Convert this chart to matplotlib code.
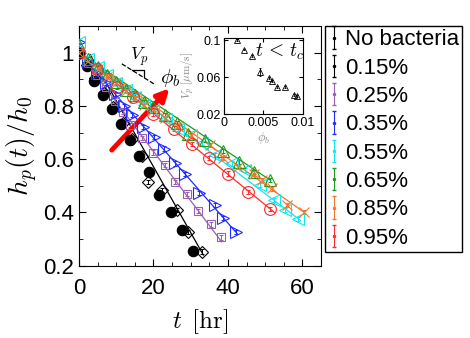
import numpy as np
import matplotlib
matplotlib.use("Agg")
import matplotlib.pyplot as plt
from matplotlib.ticker import MultipleLocator

plt.rcParams['font.family'] = ['Liberation Sans', 'DejaVu Sans']
plt.rcParams['mathtext.fontset'] = 'cm'

# ---- data ----
labels = ['No bacteria', '0.15%', '0.25%', '0.35%', '0.55%', '0.65%', '0.85%', '0.95%']
colors = ['black', 'black', '#9a5fb4', '#1f2cff', '#10e8f0', '#1f9a1f', '#f5762e', '#ff2a2a']
markers = ['o', 'D', 's', '>', '<', '^', 'x', 'o']

t_nobac = [0, 2.1, 4.1, 6.4, 8.8, 11.4, 13.8, 16.2, 18.7, 21.6, 24.6, 27.6, 30.6]
h_nobac = [0.999, 0.951, 0.895, 0.842, 0.790, 0.731, 0.671, 0.612, 0.550, 0.465, 0.401, 0.335, 0.254]

t_015 = [0, 2.2, 4.4, 6.8, 9.2, 11.8, 14.3, 16.8, 18.6, 22.2, 26.3, 29.4, 33.0]
h_015 = [1.0, 0.955, 0.905, 0.85, 0.795, 0.735, 0.675, 0.61, 0.515, 0.484, 0.409, 0.327, 0.253]

t_025 = [0, 2.4, 4.8, 7.2, 9.6, 11.9, 13.7, 16.8, 19.8, 23.1, 25.9, 29.1, 32.1, 35.4, 38.1]
h_025 = [1.0, 0.96, 0.915, 0.87, 0.82, 0.777, 0.727, 0.68, 0.625, 0.578, 0.513, 0.468, 0.406, 0.355, 0.306]

t_035 = [0, 2.4, 4.8, 7.2, 9.6, 12.0, 14.2, 17.2, 20.1, 22.8, 25.9, 28.6, 32.2, 36.5, 38.7, 42.1]
h_035 = [1.04, 0.965, 0.925, 0.885, 0.845, 0.80, 0.765, 0.721, 0.684, 0.640, 0.584, 0.543, 0.474, 0.428, 0.378, 0.327]

t_055 = [0, 2.5, 5, 7.5, 10, 12.5, 15, 17.5, 20, 23.3, 26.7, 30, 33.0, 36.6, 41.1, 44.7, 48.7, 52.3, 55.4, 58.8]
h_055 = [1.04, 0.975, 0.945, 0.915, 0.885, 0.86, 0.835, 0.805, 0.785, 0.75, 0.715, 0.69, 0.660, 0.615, 0.584, 0.559, 0.503, 0.446, 0.409, 0.375]

t_065 = [0, 2.5, 5, 7.5, 10, 12.5, 15, 17.5, 20, 23, 26.3, 29.4, 33.9, 38.8, 42.9, 47.1, 51.4]
h_065 = [1.03, 0.975, 0.945, 0.915, 0.89, 0.86, 0.84, 0.815, 0.795, 0.765, 0.734, 0.696, 0.671, 0.632, 0.589, 0.551, 0.521]

t_085 = [0, 2.5, 5, 7.5, 10, 12.5, 15, 17.5, 20, 23, 26.5, 30, 35.2, 38.8, 42.8, 46.9, 49.2, 51.8, 56.0, 60.3]
h_085 = [1.0, 0.97, 0.94, 0.91, 0.885, 0.855, 0.83, 0.805, 0.785, 0.755, 0.725, 0.69, 0.652, 0.603, 0.570, 0.546, 0.521, 0.490, 0.428, 0.402]

t_095 = [0, 4.8, 10.1, 14.6, 20.0, 25.4, 30.3, 34.8, 39.9, 45.5, 51.2]
h_095 = [1.0, 0.94, 0.871, 0.834, 0.771, 0.715, 0.656, 0.603, 0.546, 0.476, 0.413]

# straight fit lines: (t_start, t_end), (h_start, h_end); None for no line
fit_t = [None, (3, 33.4), (0, 38.3), (0, 42.5), (0, 59.5), (0, 51.5), (0, 60.5), (0, 52.5)]
fit_h = [None, (0.993, 0.240), (1.0, 0.29), (1.0, 0.32), (1.0, 0.37), (1.0, 0.52), (1.0, 0.40), (1.0, 0.40)]

# inset: V_p versus phi_b
phi_b = [0.00163, 0.00253, 0.00355, 0.00462, 0.00564, 0.00612, 0.00676, 0.00774, 0.00881, 0.00928]
v_p = [0.100, 0.090, 0.0831, 0.066, 0.0589, 0.0563, 0.0495, 0.0495, 0.041, 0.040]
v_err = [0.001, 0.001, 0.001, 0.0045, 0.001, 0.001, 0.001, 0.001, 0.001, 0.001]

series_t = [t_nobac, t_015, t_025, t_035, t_055, t_065, t_085, t_095]
series_h = [h_nobac, h_015, h_025, h_035, h_055, h_065, h_085, h_095]
msizes = [7.5, 6, 6, 8.5, 8.5, 8, 6.5, 8.5]

fig = plt.figure(figsize=(4.7, 3.38), dpi=100)
ax = fig.add_axes([0.168, 0.214, 0.515, 0.709])

for i in range(len(labels)):
    c = colors[i]
    if fit_t[i] is not None:
        ax.plot(fit_t[i], fit_h[i], '-', color=c, lw=0.9, zorder=2)
    filled = (i == 0)
    ax.errorbar(series_t[i], series_h[i], yerr=0.008, fmt=markers[i], ms=msizes[i],
                mfc=c if filled else 'none', mec=c, color=c, mew=0.8,
                elinewidth=0.7, capsize=1.5, zorder=3)

# legend proxies: small errorbar glyphs
handles = []
for i in range(len(labels)):
    h = ax.errorbar([np.nan], [np.nan], yerr=[0.0], fmt='.', ms=3, color=colors[i],
                    elinewidth=0.8, capsize=1.5, label=labels[i])
    handles.append(h)
leg = ax.legend(handles=handles, loc='upper left', bbox_to_anchor=(0.691, 0.923),
                bbox_transform=fig.transFigure, borderaxespad=0, fontsize=16,
                frameon=True, fancybox=False, edgecolor='black', framealpha=1,
                handlelength=0.5, handletextpad=0.25, labelspacing=0.33, borderpad=0.15)
leg.get_frame().set_linewidth(1.0)

# slope mark and arrow
ax.plot([11.5, 20.1], [0.958, 0.883], '--', color='black', lw=0.9)
ax.plot([14.2, 17.4, 17.4], [0.934, 0.934, 0.907], '-', color='black', lw=0.9)
ax.text(16.2, 0.985, r'$V_p$', fontsize=13, ha='center', va='center')
ax.annotate('', xy=(24.3, 0.866), xytext=(8.8, 0.634),
            arrowprops=dict(arrowstyle='-|>', color='red', lw=3.5, mutation_scale=18,
                            shrinkA=0, shrinkB=0))
ax.text(24.6, 0.905, r'$\phi_b$', fontsize=15, ha='center', va='center')

ax.set_xlim(0, 65)
ax.set_ylim(0.2, 1.1)
ax.set_xticks([0, 20, 40, 60])
ax.set_yticks([0.2, 0.4, 0.6, 0.8, 1.0])
ax.set_yticklabels(['0.2', '0.4', '0.6', '0.8', '1'])
ax.xaxis.set_minor_locator(MultipleLocator(5))
ax.yaxis.set_minor_locator(MultipleLocator(0.1))
ax.tick_params(which='both', direction='in', top=True, right=True, labelsize=16)
ax.tick_params(which='major', length=5)
ax.tick_params(which='minor', length=3)
ax.tick_params(axis='x', pad=9)
ax.set_xlabel(r'$t\ \, [\mathrm{hr}]$', fontsize=18, labelpad=6)
ax.set_ylabel(r'$h_p(t)/h_0$', fontsize=20, labelpad=2)

# inset
axi = fig.add_axes([0.4766, 0.662, 0.168, 0.227])
axi.errorbar(phi_b, v_p, yerr=v_err, fmt='^', ms=5, mfc='none', mec='black',
             color='black', mew=0.6, elinewidth=0.6, capsize=1)
axi.set_xlim(0, 0.01)
axi.set_ylim(0.02, 0.103)
axi.set_xticks([0, 0.005, 0.01])
axi.set_xticklabels(['0', '0.005', '0.01'])
axi.set_yticks([0.02, 0.06, 0.1])
axi.set_yticklabels(['0.02', '0.06', '0.1'])
axi.tick_params(direction='in', top=True, right=True, labelsize=9, length=3, pad=2)
axi.set_xlabel(r'$\phi_b$', fontsize=9, color='#888888', labelpad=1)
axi.set_ylabel(r'$V_p\ [\mu\mathrm{m/s}]$', fontsize=8, color='#888888', labelpad=0)
axi.text(0.0039, 0.087, r'$t\, <\, t_c$', fontsize=14, ha='left', va='center')

fig.savefig('out.png', dpi=100)
